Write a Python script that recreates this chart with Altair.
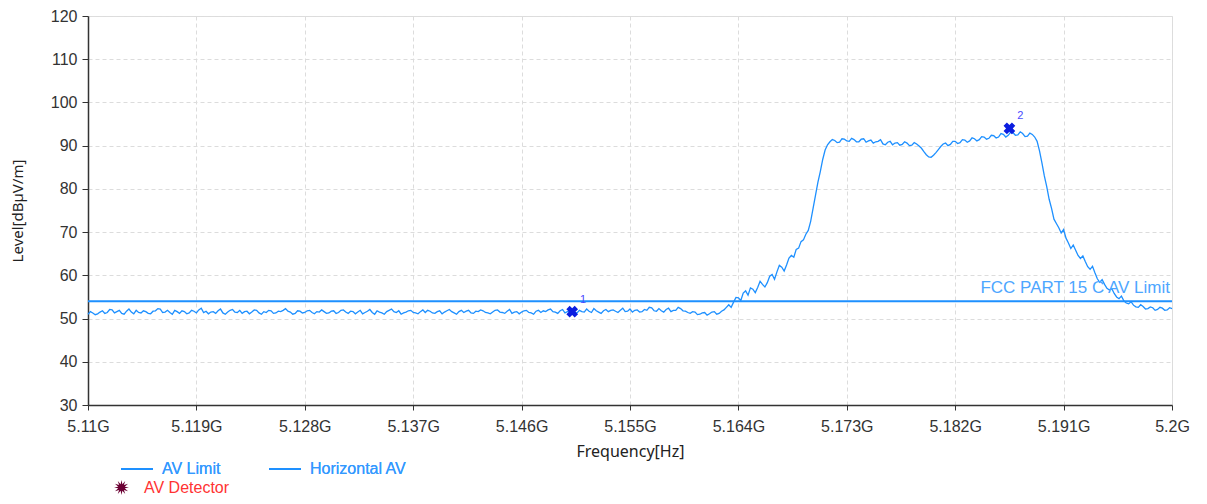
import math
import altair as alt
import pandas as pd

# ---------------- data ----------------
f_start = 5.11
f_step = 0.0002
trace_level = [
    # flat noise floor 5.1100 - 5.1630
    51.0, 51.6, 51.3, 50.9, 51.1, 51.5, 51.8, 51.2, 51.4, 52.1,
    52.0, 51.3, 51.6, 51.9, 51.2, 51.0, 51.7, 52.2, 51.5, 51.1,
    51.9, 51.4, 51.3, 51.8, 51.6, 51.2, 51.1, 51.7, 51.8, 52.3,
    52.2, 51.4, 51.5, 51.9, 51.4, 51.0, 51.9, 51.6, 51.2, 51.8,
    51.6, 51.1, 51.3, 51.9, 51.7, 51.3, 52.0, 52.4, 51.4, 51.7,
    51.1, 51.5, 51.6, 51.2, 51.8, 52.2, 51.3, 51.0, 51.5, 51.9,
    52.1, 51.5, 51.4, 51.9, 51.2, 51.6, 51.7, 51.1, 51.5, 52.0,
    51.9, 51.3, 51.0, 51.6, 51.4, 51.9, 51.8, 51.2, 51.3, 51.7,
    51.6, 51.9, 52.3, 51.7, 51.5, 51.0, 51.2, 51.8, 51.7, 51.3,
    51.4, 51.8, 51.9, 51.4, 51.1, 51.6, 51.5, 52.0, 51.6, 51.2,
    51.3, 51.7, 51.8, 51.2, 51.4, 51.9, 52.0, 51.5, 51.2, 51.7,
    51.6, 51.1, 51.5, 51.9, 51.1, 51.4, 51.7, 52.1, 51.4, 51.0,
    51.8, 51.5, 51.3, 51.0, 51.6, 51.9, 52.2, 51.6, 51.4, 51.8,
    51.0, 51.3, 51.5, 51.8, 51.9, 51.4, 51.3, 51.1, 51.6, 52.0,
    51.4, 51.9, 51.7, 51.3, 51.2, 51.6, 51.8, 51.1, 51.5, 51.8,
    52.1, 51.6, 51.3, 51.0, 51.6, 51.9, 51.4, 51.7, 51.9, 51.3,
    51.2, 51.7, 51.6, 52.0, 51.8, 51.4, 51.3, 51.1, 51.5, 51.9,
    52.0, 51.5, 51.4, 51.2, 51.7, 52.1, 51.2, 51.5, 51.6, 51.1,
    51.5, 51.8, 51.9, 51.4, 51.3, 51.0, 51.7, 51.9, 51.4, 51.8,
    51.6, 52.0, 52.2, 51.6, 51.5, 51.2, 51.8, 52.1, 51.3, 51.6,
    51.6, 52.0, 51.4, 51.3, 51.9, 51.6, 51.5, 52.2, 51.7, 51.4,
    52.3, 51.8, 51.5, 51.2, 51.8, 52.1, 51.6, 51.9, 52.0, 51.7,
    51.4, 51.9, 52.4, 51.6, 51.7, 52.2, 51.5, 51.9, 52.0, 51.5,
    51.6, 52.1, 51.9, 52.6, 52.5, 51.8, 51.7, 52.3, 51.8, 51.5,
    52.1, 52.4, 51.6, 51.9, 51.9, 52.6, 52.3, 51.8, 51.7, 51.4,
    51.2, 51.6, 51.5, 50.9, 51.0, 51.3, 51.4, 50.8, 51.1, 51.5,
    51.6, 51.0, 51.2, 51.7, 52.0, 52.6,
    # rising edge 5.1632 - 5.1716
    53.2, 52.6, 53.8, 54.9, 54.8, 54.2, 55.9, 56.4, 55.4, 57.1,
    56.8, 56.0, 57.2, 58.6, 57.9, 57.3, 58.3, 59.8, 60.2, 59.1,
    60.8, 62.3, 61.9, 61.0, 62.4, 64.0, 64.6, 64.2, 66.0, 66.3,
    67.8, 68.2, 69.5, 70.4, 72.5, 75.5, 78.5, 81.5, 84.0, 86.8,
    89.0, 90.2, 90.9,
    # occupied band 5.1718 - 5.1886
    91.4, 91.2, 90.7, 90.8, 91.6, 91.5, 91.1, 91.0, 91.7, 91.4,
    90.9, 90.9, 91.5, 91.6, 90.8, 91.1, 91.3, 90.6, 90.9, 91.0,
    91.4, 90.4, 90.2, 90.8, 91.0, 90.2, 90.6, 90.7, 90.1, 90.3,
    90.9, 90.6, 90.0, 90.1, 90.7, 90.4, 89.9, 89.4, 88.6, 87.9,
    87.4, 87.3, 87.8, 88.4, 89.1, 89.8, 90.4, 90.6, 90.0, 90.3,
    91.0, 91.0, 90.5, 90.7, 91.4, 91.3, 90.8, 91.1, 91.8, 91.6,
    91.1, 91.4, 92.1, 92.0, 91.5, 91.7, 92.4, 92.3, 91.8, 92.0,
    92.8, 92.6, 92.0, 92.4, 93.1, 93.0, 92.4, 92.5, 93.2, 92.8,
    92.1, 92.2, 92.9, 92.6, 92.0,
    # falling edge 5.1888 - 5.2000
    91.0, 88.8, 86.0, 83.0, 80.5, 77.6, 75.5, 73.0, 72.0, 71.0,
    69.8, 70.6, 68.6, 67.5, 66.2, 67.0, 65.8, 64.6, 63.9, 64.5,
    63.2, 62.0, 61.4, 62.1, 60.6, 59.2, 58.4, 59.0, 57.9, 57.0,
    56.6, 56.9, 55.8, 55.0, 54.6, 55.2, 54.1, 53.6, 53.4, 53.9,
    53.1, 52.7, 52.6, 53.2, 52.8, 52.2, 52.3, 52.7, 52.5, 51.9,
    52.1, 52.6, 52.4, 51.9, 52.0, 52.5, 52.3,
]
trace_freq = [round(f_start + i * f_step, 4) for i in range(len(trace_level))]

limit_freq = [5.11, 5.2]
limit_level = [54.0, 54.0]
limit_text = "FCC PART 15 C AV Limit"

marker_freq = [5.1502, 5.1865]
marker_level = [51.6, 94.0]
marker_label = ["1", "2"]

x_ticks = [5.11, 5.119, 5.128, 5.137, 5.146, 5.155, 5.164, 5.173, 5.182, 5.191, 5.2]
y_ticks = [30, 40, 50, 60, 70, 80, 90, 100, 110, 120]

series_names = ["AV Limit", "Horizontal AV"]
detector_name = "AV Detector"

# ---------------- tables ----------------
trace_df = pd.DataFrame({"f": trace_freq, "level": trace_level, "series": series_names[1]})
limit_df = pd.DataFrame({"f": limit_freq, "level": limit_level, "series": series_names[0]})
limit_lbl_df = pd.DataFrame({"f": [limit_freq[-1]], "level": [limit_level[-1]], "t": [limit_text]})
marker_df = pd.DataFrame({"f": marker_freq, "level": marker_level, "t": marker_label})
det_legend_df = pd.DataFrame({"f": [5.3], "level": [50.0], "det": [detector_name]})

# star symbol for the legend
pts = []
n = 12
for k in range(2 * n):
    r = 1.0 if k % 2 == 0 else 0.45
    a = math.pi * k / n
    pts.append(f"{r * math.sin(a):.3f},{-r * math.cos(a):.3f}")
star_path = "M" + " L".join(pts) + " Z"

BLUE = "#1e90ff"
TICK_FONT = "Liberation Sans"

x_enc = alt.X(
    "f:Q",
    scale=alt.Scale(domain=[5.11, 5.2], nice=False, zero=False),
    axis=alt.Axis(
        title="Frequency[Hz]",
        values=x_ticks,
        labelExpr="datum.value + 'G'",
        labelFlush=False,
        labelFont=TICK_FONT, labelFontSize=16, labelColor="#333333",
        labelPadding=8, tickSize=5, tickColor="#333333",
        domainColor="#333333", domainWidth=1.5,
        titleFont="Noto Sans", titleFontSize=16, titleFontWeight="normal",
        titleColor="#222222", titlePadding=9,
        grid=True, gridColor="#dcdcdc", gridDash=[4, 3],
    ),
)
y_enc = alt.Y(
    "level:Q",
    scale=alt.Scale(domain=[30, 120], nice=False, zero=False),
    axis=alt.Axis(
        title="Level[dBµV/m]",
        values=y_ticks,
        labelFlush=False,
        labelFont=TICK_FONT, labelFontSize=16, labelColor="#333333",
        labelPadding=5, tickSize=6, tickColor="#333333",
        domainColor="#333333", domainWidth=1.5,
        titleFont="Noto Sans", titleFontSize=15, titleFontWeight="normal",
        titleColor="#222222", titlePadding=25,
        grid=True, gridColor="#dcdcdc", gridDash=[4, 3],
    ),
)

color_scale = alt.Scale(domain=series_names, range=[BLUE, BLUE])
color_legend = alt.Legend(
    title=None, orient="none", legendX=32, legendY=436, columns=2,
    columnPadding=44, symbolType="stroke", symbolSize=1024, symbolStrokeWidth=2,
    labelColor="#3399ff", labelFont=TICK_FONT, labelFontSize=16, labelOffset=8,
    padding=0, rowPadding=0,
)

limit_line = alt.Chart(limit_df).mark_line(strokeWidth=2).encode(
    x=x_enc, y=y_enc,
    color=alt.Color("series:N", scale=color_scale, legend=color_legend),
)
trace_line = alt.Chart(trace_df).mark_line(strokeWidth=1.3).encode(
    x="f:Q", y="level:Q",
    color=alt.Color("series:N", scale=color_scale, legend=color_legend),
)
limit_label = alt.Chart(limit_lbl_df).mark_text(
    align="right", baseline="bottom", dx=-2, dy=-4,
    font=TICK_FONT, fontSize=17, color="#4da6ff",
).encode(x="f:Q", y="level:Q", text="t:N")

markers = alt.Chart(marker_df).mark_point(
    shape="cross", angle=45, filled=True, size=140, color="#0b1ee0", opacity=1,
).encode(x="f:Q", y="level:Q")
marker_text = alt.Chart(marker_df).mark_text(
    dx=11, dy=-12, font=TICK_FONT, fontSize=11, color="#4a4aff",
).encode(x="f:Q", y="level:Q", text="t:N")

det_legend = alt.Chart(det_legend_df).mark_point(
    filled=True, clip=True, color="#6b0033", size=225, opacity=1,
).encode(
    x="f:Q", y="level:Q",
    shape=alt.Shape(
        "det:N",
        scale=alt.Scale(domain=[detector_name], range=[star_path]),
        legend=alt.Legend(
            title=None, orient="none", legendX=25, legendY=463,
            symbolSize=225, symbolFillColor="#6b0033", symbolStrokeColor="#6b0033",
            labelColor="#ff3333", labelFont=TICK_FONT, labelFontSize=16,
            labelOffset=14, padding=0,
        ),
    ),
)

chart = alt.layer(
    limit_line, trace_line, limit_label, markers, marker_text, det_legend
).resolve_legend(color="independent", shape="independent").properties(
    width=1084, height=389,
    padding={"left": 80, "top": 8, "right": 25, "bottom": 90},
    autosize=alt.AutoSizeParams(type="none"),
).configure_view(stroke=None).configure(background="white")

chart.save("out.html", embed_options={"renderer": "svg", "actions": False})
